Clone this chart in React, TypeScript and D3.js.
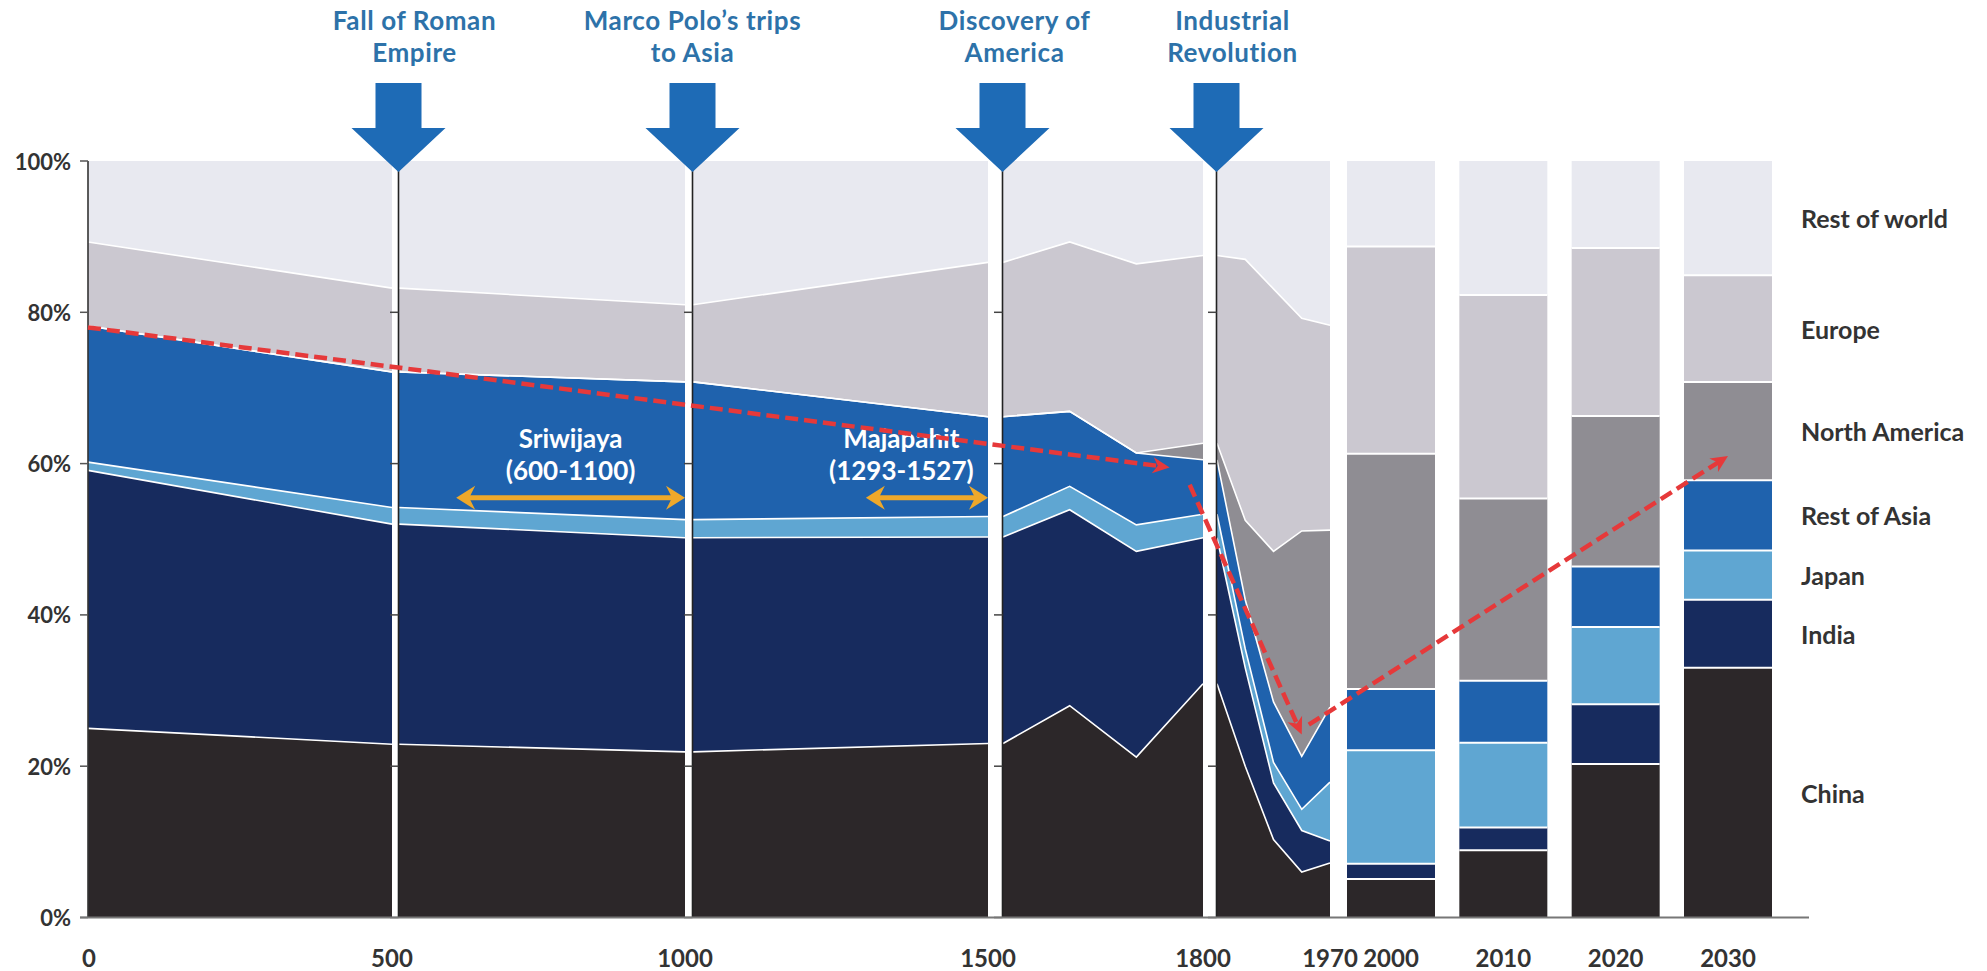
import React from "react";
import * as d3 from "d3";

const WIDTH = 1987;
const HEIGHT = 971;

// Stack order, bottom to top
const regions = ["China", "India", "Japan", "Rest of Asia", "North America", "Europe", "Rest of world"];

// Share of world GDP (%) through history
const eraYears = [0, 500, 1000, 1500, 1600, 1700, 1800, 1870, 1913, 1950, 1970];
const eraChina = [25.0, 22.9, 21.9, 23.0, 28.0, 21.2, 30.9, 20.0, 10.3, 6.0, 7.2];
const eraIndia = [34.1, 29.1, 28.3, 27.3, 25.9, 27.2, 19.3, 13.0, 7.5, 5.5, 2.9];
const eraJapan = [1.1, 2.2, 2.4, 2.7, 3.1, 3.5, 3.1, 2.5, 2.7, 2.8, 7.8];
const eraRestOfAsia = [18.0, 17.9, 18.2, 13.2, 9.9, 9.5, 7.2, 6.5, 8.0, 7.0, 9.9];
const eraNorthAmerica = [0, 0, 0, 0, 0, 0, 2.2, 10.5, 19.9, 29.8, 23.4];
const eraEurope = [11.1, 11.1, 10.2, 20.4, 22.4, 25.0, 24.8, 34.5, 34.7, 28.1, 27.1];
const eraRestOfWorld = [10.7, 16.8, 19.0, 13.4, 10.7, 13.6, 12.5, 13.0, 16.9, 20.8, 21.7];

// Share of world GDP (%) by decade, recent and projected
const decadeYears = [2000, 2010, 2020, 2030];
const decadeChina = [5.1, 8.9, 20.3, 33.0];
const decadeIndia = [2.0, 3.0, 7.9, 9.0];
const decadeJapan = [15.0, 11.2, 10.2, 6.5];
const decadeRestOfAsia = [8.1, 8.2, 8.0, 9.3];
const decadeNorthAmerica = [31.1, 24.1, 19.9, 13.0];
const decadeEurope = [27.4, 26.9, 22.2, 14.1];
const decadeRestOfWorld = [11.3, 17.7, 11.5, 15.1];

// Each era panel covers these years
const eraPanels = [
  [0, 500],
  [500, 1000],
  [1000, 1500],
  [1500, 1600, 1700, 1800],
  [1800, 1870, 1913, 1950, 1970],
];

const yTicks = [0, 20, 40, 60, 80, 100];

const events = [
  { year: 500, lines: ["Fall of Roman", "Empire"] },
  { year: 1000, lines: ["Marco Polo\u2019s trips", "to Asia"] },
  { year: 1500, lines: ["Discovery of", "America"] },
  { year: 1800, lines: ["Industrial", "Revolution"] },
];

const kingdoms = [
  { name: "Sriwijaya", from: 600, to: 1100 },
  { name: "Majapahit", from: 1293, to: 1527 },
];
const kingdomLevel = 55.5;

// Asia's share trend: decline, collapse, recovery
const trendArrows = [
  [{ year: 0, share: 78 }, { year: 1750, share: 59.5 }],
  [{ year: 1780, share: 57.2 }, { year: 1950, share: 24.2 }],
  [{ year: 1955, share: 25.5 }, { year: 2030, share: 61 }],
];

const eraShares: Record<string, number[]> = {
  China: eraChina,
  India: eraIndia,
  Japan: eraJapan,
  "Rest of Asia": eraRestOfAsia,
  "North America": eraNorthAmerica,
  Europe: eraEurope,
  "Rest of world": eraRestOfWorld,
};
const decadeShares: Record<string, number[]> = {
  China: decadeChina,
  India: decadeIndia,
  Japan: decadeJapan,
  "Rest of Asia": decadeRestOfAsia,
  "North America": decadeNorthAmerica,
  Europe: decadeEurope,
  "Rest of world": decadeRestOfWorld,
};

const regionColors: Record<string, string> = {
  China: "#2c2729",
  India: "#172b5e",
  Japan: "#5fa6d2",
  "Rest of Asia": "#1f62ad",
  "North America": "#8f8d93",
  Europe: "#cbc8d0",
  "Rest of world": "#e8e9f0",
};

const FONT = "Lato, 'Open Sans', 'DejaVu Sans', sans-serif";
const AXIS_COLOR = "#333";
const TITLE_COLOR = "#2d72a9";
const EVENT_ARROW = "#1e6bb6";
const TREND_RED = "#e6393a";
const KINGDOM_ORANGE = "#eea82a";

// Layout
const plotTop = 161;
const plotBottom = 917.5;
const axisX = 88;
const panelBounds = [
  [88, 392],
  [399, 685],
  [693, 988],
  [1003, 1203],
  [1217, 1330],
];
const barCenters = [1391, 1728];
const barWidth = 88;
const legendX = 1801;
const baselineEnd = 1809;
const eventLabelShift = [16, 0, 12, 16];
const kingdomFont = 26;
const titleFont = 26;

function arrowHead(x: number, y: number, angle: number, len: number, hw: number, notch: number) {
  const deg = (angle * 180) / Math.PI;
  return {
    d: `M0,0 L${-len},${-hw} L${-len + notch},0 L${-len},${hw} Z`,
    transform: `translate(${x},${y}) rotate(${deg})`,
  };
}

export default function App() {
  const y = d3.scaleLinear().domain([0, 100]).range([plotBottom, plotTop]);

  const panels = eraPanels.map((years, i) => {
    const [x0, x1] = panelBounds[i];
    const x = d3
      .scaleLinear()
      .domain(years)
      .range(years.map((_, k) => x0 + (k * (x1 - x0)) / (years.length - 1)));
    const rows = years.map((yr) => {
      const idx = eraYears.indexOf(yr);
      const row: any = { year: yr };
      regions.forEach((r) => (row[r] = eraShares[r][idx]));
      return row;
    });
    const series = d3.stack<any>().keys(regions)(rows);
    return { years, x, series, x0, x1 };
  });

  const barX = d3.scalePoint<number>().domain(decadeYears).range(barCenters as [number, number]);
  const barRows = decadeYears.map((yr, idx) => {
    const row: any = { year: yr };
    regions.forEach((r) => (row[r] = decadeShares[r][idx]));
    return row;
  });
  const barSeries = d3.stack<any>().keys(regions)(barRows);

  const panelOf = (yr: number) =>
    panels.find((pp) => yr >= pp.years[0] && yr <= pp.years[pp.years.length - 1])!;

  const xOf = (yr: number): number => {
    if (decadeYears.includes(yr)) return barX(yr) as number;
    return panelOf(yr).x(yr);
  };

  const lastBar = barSeries.map((s) => s[s.length - 1]);

  const axisText = { fontSize: 22, fontWeight: 700, fill: AXIS_COLOR } as const;
  const yearText = { fontSize: 24, fontWeight: 700, fill: AXIS_COLOR } as const;

  return (
    <svg
      width={WIDTH}
      height={HEIGHT}
      viewBox={`0 0 ${WIDTH} ${HEIGHT}`}
      style={{ position: "absolute", left: 0, top: 0, display: "block", background: "#fff" }}
      fontFamily={FONT}
    >
      <rect x={0} y={0} width={WIDTH} height={HEIGHT} fill="#fff" />

      {/* Era panels: stacked areas */}
      {panels.map((p, pi) => {
        const area = d3
          .area<any>()
          .x((d) => p.x(d.data.year))
          .y0((d) => y(d[0]))
          .y1((d) => y(d[1]));
        const line = d3
          .line<any>()
          .x((d) => p.x(d.data.year))
          .y((d) => y(d[1]));
        return (
          <g key={`panel-${pi}`}>
            {p.series.map((s) => (
              <path key={s.key} d={area(s) || ""} fill={regionColors[s.key]} />
            ))}
            {p.series.slice(0, -1).map((s) => (
              <path key={`l-${s.key}`} d={line(s) || ""} fill="none" stroke="#fff" strokeWidth={1.6} />
            ))}
          </g>
        );
      })}

      {/* Panel axes */}
      {panels.slice(1).map((p, i) => (
        <g key={`pax-${i}`}>
          <line x1={p.x0 - 0.5} x2={p.x0 - 0.5} y1={plotTop + 8} y2={plotBottom} stroke="#222" strokeWidth={1.6} />
          {yTicks.map((t) => (
            <line key={t} x1={p.x0 - 9} x2={p.x0 - 0.5} y1={y(t)} y2={y(t)} stroke="#444" strokeWidth={1.5} />
          ))}
        </g>
      ))}

      {/* Main y axis */}
      <line x1={axisX} x2={axisX} y1={plotTop} y2={plotBottom} stroke="#333" strokeWidth={1.6} />
      {yTicks.map((t) => (
        <g key={`yt-${t}`}>
          <line x1={axisX - 8} x2={axisX} y1={y(t)} y2={y(t)} stroke="#555" strokeWidth={1.5} />
          <text x={axisX - 17} y={y(t)} textAnchor="end" dominantBaseline="central" {...axisText}>
            {`${t}%`}
          </text>
        </g>
      ))}

      {/* Decade bars */}
      {barSeries.map((s) =>
        s.map((d: any) => {
          const cx = barX(d.data.year) as number;
          return (
            <rect
              key={`${s.key}-${d.data.year}`}
              x={cx - barWidth / 2}
              y={y(d[1])}
              width={barWidth}
              height={y(d[0]) - y(d[1])}
              fill={regionColors[s.key]}
            />
          );
        })
      )}
      {barSeries.slice(0, -1).map((s) =>
        s.map((d: any) => {
          const cx = barX(d.data.year) as number;
          return (
            <line
              key={`bl-${s.key}-${d.data.year}`}
              x1={cx - barWidth / 2}
              x2={cx + barWidth / 2}
              y1={y(d[1])}
              y2={y(d[1])}
              stroke="#fff"
              strokeWidth={2}
            />
          );
        })
      )}

      {/* Baseline */}
      <line x1={axisX - 8} x2={baselineEnd} y1={plotBottom} y2={plotBottom} stroke="#777" strokeWidth={2} />

      {/* X labels */}
      <text x={panels[0].x0 + 1} y={957} textAnchor="middle" dominantBaseline="central" {...yearText}>
        {eraPanels[0][0]}
      </text>
      {panels.map((p, i) => (
        <text key={`xl-${i}`} x={p.x1} y={957} textAnchor="middle" dominantBaseline="central" {...yearText}>
          {p.years[p.years.length - 1]}
        </text>
      ))}
      {decadeYears.map((yr) => (
        <text key={`bx-${yr}`} x={barX(yr) as number} y={957} textAnchor="middle" dominantBaseline="central" {...yearText}>
          {yr}
        </text>
      ))}

      {/* Event arrows */}
      {events.map((ev, i) => {
        const p = panels.find((pp) => pp.years[0] === ev.year)!;
        const cx = p.x0 - 0.5;
        const d = `M${cx - 23},83 H${cx + 23} V128 H${cx + 47} L${cx},172 L${cx - 47},128 H${cx - 23} Z`;
        return (
          <g key={`ev-${i}`}>
            <path d={d} fill={EVENT_ARROW} />
            {ev.lines.map((ln, k) => (
              <text
                key={k}
                x={cx + eventLabelShift[i]}
                y={30 + k * 32}
                textAnchor="middle"
                fontSize={titleFont}
                fontWeight={700}
                letterSpacing={0.6}
                fill={TITLE_COLOR}
              >
                {ln}
              </text>
            ))}
          </g>
        );
      })}

      {/* Kingdom spans, kept inside the era panel where they begin */}
      {kingdoms.map((k) => {
        const p = panelOf(k.from);
        const lastYear = p.years[p.years.length - 1];
        const x1 = p.x(k.from);
        const x2 = p.x(Math.min(k.to, lastYear));
        const yy = y(kingdomLevel);
        const len = 19;
        const h1 = arrowHead(x1, yy, Math.PI, len, 12, 6);
        const h2 = arrowHead(x2, yy, 0, len, 12, 6);
        const rangeText = `(${k.from}-${k.to})`;
        const estHalf = (rangeText.length * kingdomFont * 0.55) / 2;
        const cx = Math.min((x1 + x2) / 2, p.x1 - 8 - estHalf);
        return (
          <g key={k.name}>
            <line x1={x1 + 8} x2={x2 - 8} y1={yy} y2={yy} stroke={KINGDOM_ORANGE} strokeWidth={5} />
            <path d={h1.d} transform={h1.transform} fill={KINGDOM_ORANGE} />
            <path d={h2.d} transform={h2.transform} fill={KINGDOM_ORANGE} />
            <text x={cx} y={yy - 50} textAnchor="middle" fontSize={kingdomFont} fontWeight={700} fill="#fff">
              {k.name}
            </text>
            <text x={cx} y={yy - 18} textAnchor="middle" fontSize={kingdomFont} fontWeight={700} fill="#fff">
              {rangeText}
            </text>
          </g>
        );
      })}

      {/* Trend arrows */}
      {trendArrows.map((seg, i) => {
        const xa = xOf(seg[0].year);
        const ya = y(seg[0].share);
        const xb = xOf(seg[1].year);
        const yb = y(seg[1].share);
        const ang = Math.atan2(yb - ya, xb - xa);
        const len = 17;
        const head = arrowHead(xb, yb, ang, len, 8, 5);
        const xe = xb - Math.cos(ang) * len * 0.6;
        const ye = yb - Math.sin(ang) * len * 0.6;
        return (
          <g key={`tr-${i}`}>
            <line x1={xa} y1={ya} x2={xe} y2={ye} stroke={TREND_RED} strokeWidth={4.5} strokeDasharray="13 6" />
            <path d={head.d} transform={head.transform} fill={TREND_RED} />
          </g>
        );
      })}

      {/* Region labels beside the last bar */}
      {lastBar.map((d: any, i) => (
        <text
          key={`lg-${regions[i]}`}
          x={legendX}
          y={y((d[0] + d[1]) / 2)}
          dominantBaseline="central"
          fontSize={25}
          fontWeight={700}
          fill="#333"
        >
          {regions[i]}
        </text>
      ))}
    </svg>
  );
}
